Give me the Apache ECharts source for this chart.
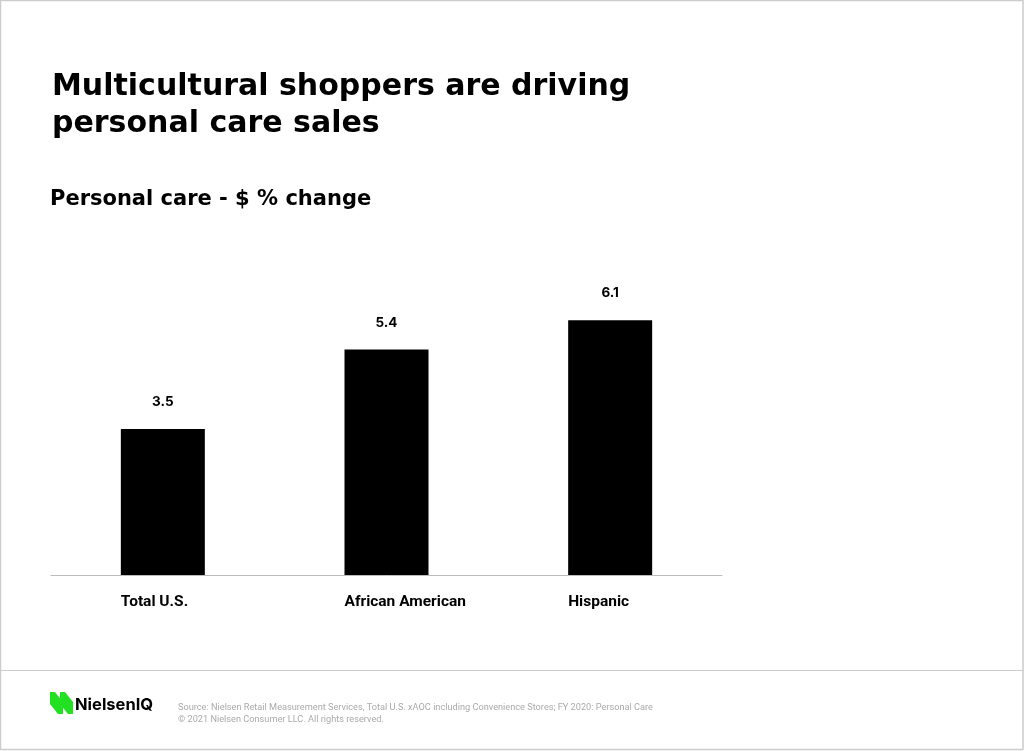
<!DOCTYPE html>
<html>
<head>
<meta charset="utf-8">
<script src="https://cdn.jsdelivr.net/npm/echarts@6/dist/echarts.min.js"></script>
<style>
html,body{margin:0;padding:0;background:#fff;}
#chart{width:1024px;height:751px;}
</style>
</head>
<body>
<div id="chart"></div>
<script>
const categories = ['Total U.S.', 'African American', 'Hispanic'];
const values = [3.5, 5.4, 6.1];
const titleLines = ['Multicultural shoppers are driving', 'personal care sales'];
const subtitle = 'Personal care - $ % change';
const sourceLines = [
  'Source: Nielsen Retail Measurement Services, Total U.S. xAOC including Convenience Stores; FY 2020: Personal Care',
  '\u00a9 2021 Nielsen Consumer LLC. All rights reserved.'
];

const chart = echarts.init(document.getElementById('chart'), null, {renderer: 'canvas'});
const FONT = '"DejaVu Sans", sans-serif';

chart.setOption({
  backgroundColor: '#fff',
  animation: false,
  grid: {left: 51, right: 302, top: 241, bottom: 176, containLabel: false},
  xAxis: {
    type: 'category',
    data: categories,
    axisLine: {show: true, lineStyle: {color: '#bbbbbb', width: 1}},
    axisTick: {show: false},
    axisLabel: {
      color: '#000',
      fontFamily: 'Roboto, sans-serif',
      fontWeight: 'bold',
      fontSize: 15.5,
      align: 'left',
      margin: 19,
      padding: [0, 0, 0, -42]
    }
  },
  yAxis: {
    type: 'value',
    min: 0,
    max: 8,
    show: false,
    splitLine: {show: false}
  },
  series: [{
    type: 'bar',
    data: values,
    barWidth: 84,
    itemStyle: {color: '#000'},
    label: {
      show: true,
      position: 'top',
      distance: 20,
      color: '#000',
      fontFamily: 'Inter, sans-serif',
      fontWeight: 'bold',
      fontSize: 13.5
    }
  }],
  graphic: [
    {type: 'rect', shape: {x: 0.5, y: 0.5, width: 1022.5, height: 749}, style: {fill: 'none', stroke: '#cccccc', lineWidth: 1.5}, silent: true},
    {type: 'line', shape: {x1: 0, y1: 670.5, x2: 1024, y2: 670.5}, style: {stroke: '#cccccc', lineWidth: 1}},
    {type: 'text', left: 52, top: 69, style: {text: titleLines.join('\n'), fontFamily: FONT, fontWeight: 'bold', fontSize: 30, lineHeight: 37, fill: '#000'}},
    {type: 'text', left: 50, top: 189, style: {text: subtitle, fontFamily: FONT, fontWeight: 'bold', fontSize: 21, fill: '#000'}},
    {type: 'polygon', shape: {points: [[50,692],[55,692],[63,702],[63,714],[58,714],[50,704]]}, style: {fill: '#22e022'}},
    {type: 'polygon', shape: {points: [[60,692],[65,692],[73,702],[73,714],[68,714],[60,704]]}, style: {fill: '#22e022'}},
    {type: 'text', left: 75, top: 697, style: {text: 'NielsenIQ', fontFamily: 'Inter, sans-serif', fontWeight: 'bold', fontSize: 16.5, fill: '#000'}},
    {type: 'text', left: 178, top: 702, style: {text: sourceLines.join('\n'), fontFamily: 'Roboto, sans-serif', fontSize: 9.2, lineHeight: 12, fill: '#aaaaaa'}}
  ]
});
</script>
</body>
</html>
